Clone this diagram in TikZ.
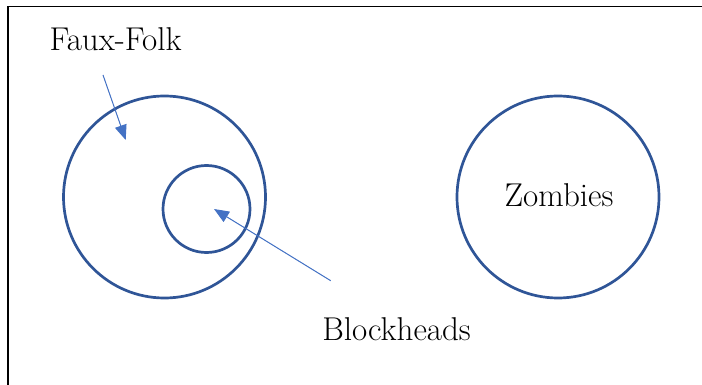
\documentclass[tikz,border=0pt]{standalone}
\usepackage{fontspec}
\usetikzlibrary{arrows.meta}
\definecolor{ringblue}{HTML}{2F5597}
\definecolor{arrowblue}{HTML}{4472C4}
\tikzset{
  ring/.style={circle, draw=ringblue, line width=2.7pt, inner sep=0pt},
  lbl/.style={anchor=base, inner sep=0pt, font=\rmfamily\fontsize{33}{36}\selectfont},
  pointer/.style={draw=arrowblue, line width=1pt, -{Triangle[length=15pt,width=12pt]}, fill=arrowblue},
  frame/.style={draw=black, line width=1.8pt}
}
\begin{document}
\begin{tikzpicture}[x=1pt,y=-1pt]
\useasboundingbox (0,0) rectangle (702,385);
\coordinate (fb) at (8,385);
\coordinate (fc) at (8,6.5);
\coordinate (fr) at (702,6.5);
\draw[frame] (fb) -- (fc) -- (fr);
\node[ring, minimum size=202pt] (outer) at (164.5,197) {};
\node[ring, minimum size=87pt] (inner) at (206.5,209) {};
\node[ring, minimum size=202pt] (zomb) at (558,197) {};
\node[lbl] (zt) at (559,207) {Zombies};
\node[lbl] (ff) at (115.5,50.7) {Faux-Folk};
\node[lbl] (bh) at (396.5,340) {Blockheads};
\coordinate (a1s) at (103,75);
\coordinate (a1e) at (125.7,140);
\coordinate (a2s) at (330.7,280.7);
\coordinate (a2e) at (214,209);
\draw[pointer] (a1s) -- (a1e);
\draw[pointer] (a2s) -- (a2e);
\end{tikzpicture}
\end{document}
